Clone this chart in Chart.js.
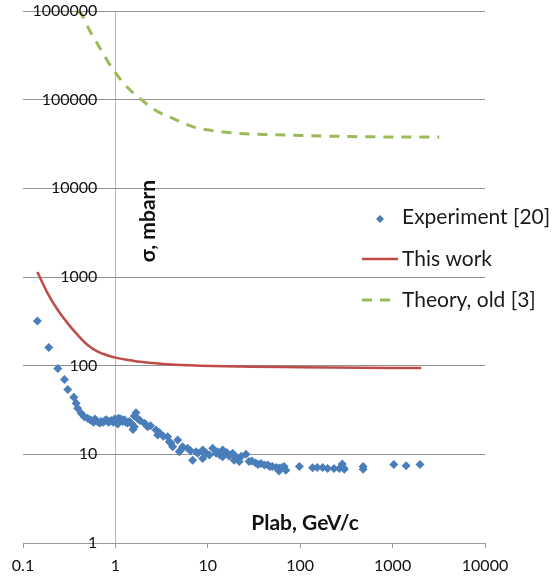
<!DOCTYPE html>
<html>
<head>
<meta charset="utf-8">
<script src="https://cdn.jsdelivr.net/npm/chart.js@4.4.1/dist/chart.umd.min.js"></script>
<style>
  html, body { margin: 0; padding: 0; background: #fff; }
  #wrap { width: 558px; height: 582px; position: relative; }
</style>
</head>
<body>
<div id="wrap"><canvas id="chart"></canvas></div>
<script>
// axis ticks
var xTicks = [0.1, 1, 10, 100, 1000, 10000];
var xTickLabels = ['0.1', '1', '10', '100', '1000', '10000'];
var yTicks = [1, 10, 100, 1000, 10000, 100000, 1000000];
var yTickLabels = ['1', '10', '100', '1000', '10000', '100000', '1000000'];

// Experiment [20]
var expP = [0.143, 0.19, 0.238, 0.281, 0.305, 0.355, 0.376, 0.39, 0.425, 0.46,
    0.5, 0.53, 0.55, 0.58, 0.6, 0.62, 0.65, 0.68, 0.7, 0.74,
    0.77, 0.8, 0.84, 0.87, 0.9, 0.95, 0.98, 1.02, 1.06, 1.08,
    1.12, 1.15, 1.2, 1.25, 1.3, 1.35, 1.42, 1.5, 1.55, 1.6,
    1.6, 1.67, 1.75, 1.85, 2.06, 2.15, 2.23, 2.4, 2.75, 2.87,
    2.99, 3.3, 3.68, 3.83, 4.0, 4.17, 4.72, 4.92, 5.1, 5.33,
    6.04, 6.5, 6.85, 7.45, 7.8, 8.8, 8.8, 9.2, 9.6, 10.4,
    11.3, 12.3, 12.8, 13.5, 14.5, 14.5, 16, 17, 18.6, 19.3,
    20.5, 21.9, 23, 25.9, 28, 30, 33, 35, 37.6, 41,
    44.5, 47, 50, 55, 59, 59, 63, 67, 70, 98,
    136, 153, 175, 198, 232, 265, 285, 292, 300, 480,
    480, 1030, 1400, 1980];
var expSigma = [319, 160, 93, 70, 54, 44, 37.6, 33, 29, 26.5,
    25.5, 24.5, 24, 23, 25, 24, 23, 22.5, 23.5, 23,
    24, 24.5, 23, 23.5, 24, 23, 25, 24.5, 22, 25.5,
    24, 25, 23.5, 24.5, 23, 22.5, 23.5, 22, 19, 20.5,
    27, 29.5, 25, 24, 22.4, 21.5, 20.5, 21, 18.8, 16.5,
    17.5, 16, 15.8, 13.9, 13.3, 12.2, 14.5, 10.7, 11.2, 12.2,
    11.7, 11, 8.6, 10.7, 10.3, 11.2, 9.0, 10.7, 10.3, 9.8,
    11.7, 10.3, 10.7, 9.8, 11.2, 9.4, 10.5, 9.6, 10.3, 8.6,
    9.2, 8.3, 9.5, 10.0, 8.3, 8.4, 8.0, 7.7, 7.9, 7.6,
    7.6, 7.3, 7.3, 7.1, 7.0, 6.5, 7.1, 7.3, 6.6, 7.3,
    7.06, 7.1, 7.1, 6.9, 6.9, 6.9, 7.8, 7.1, 6.8, 7.3,
    6.8, 7.7, 7.45, 7.7];

// This work
var workP = [0.143, 0.185, 0.238, 0.305, 0.39, 0.5, 0.644, 0.975, 1.6, 2.33, 4, 8.1, 30, 100, 1000, 2040];
var workSigma = [1140, 655, 424, 300, 222, 171, 144, 124, 113, 108, 103, 100, 97, 96, 94, 94];

// Theory, old [3]
var oldP = [0.39, 0.42, 0.537, 0.69, 0.905, 1.25, 1.82, 2.71, 4.34, 7.1, 11.8, 20, 40, 100, 300, 1000, 3200];
var oldSigma = [1000000, 949000, 580000, 373000, 233000, 150000, 104000, 76000, 60500, 49000, 44500, 41900, 40500, 39500, 38500, 38000, 38000];

var blue = '#4a7ebb';
var red = '#be4b48';
var green = '#9bbb59';

function pts(xs, ys) {
    return xs.map(function (x, i) { return { x: x, y: ys[i] }; });
}

var overlay = {
    id: 'overlay',
    afterDraw: function (chart) {
        var ctx = chart.ctx;
        var xs = chart.scales.x, ys = chart.scales.y;
        var x1 = xs.getPixelForValue(1);
        ctx.save();
        // y tick labels sit next to the axis at p = 1
        ctx.fillStyle = '#111';
        ctx.font = '16px Lato';
        ctx.textAlign = 'right';
        ctx.textBaseline = 'middle';
        yTicks.forEach(function (v, i) {
            ctx.fillText(yTickLabels[i], x1 - 18, ys.getPixelForValue(v));
        });
        // axis titles inside the plot
        ctx.font = 'bold 21px Lato';
        ctx.textAlign = 'center';
        ctx.fillText('Plab, GeV/c', 305, 523);
        ctx.save();
        ctx.translate(148, 221);
        ctx.rotate(-Math.PI / 2);
        ctx.fillText('σ, mbarn', 0, 0);
        ctx.restore();
        // legend
        ctx.font = '21px Lato';
        ctx.textAlign = 'left';
        ctx.fillStyle = '#1a1a1a';
        ctx.fillText('Experiment [20]', 402, 217);
        ctx.fillText('This work', 402, 259);
        ctx.fillText('Theory, old [3]', 402, 300);
        ctx.fillStyle = blue;
        ctx.beginPath();
        ctx.moveTo(380, 215); ctx.lineTo(384, 219); ctx.lineTo(380, 223); ctx.lineTo(376, 219);
        ctx.closePath();
        ctx.fill();
        ctx.lineWidth = 2.5;
        ctx.strokeStyle = red;
        ctx.beginPath();
        ctx.moveTo(362, 259); ctx.lineTo(398, 259);
        ctx.stroke();
        ctx.lineWidth = 3;
        ctx.strokeStyle = green;
        ctx.setLineDash([10, 8]);
        ctx.beginPath();
        ctx.moveTo(362, 300); ctx.lineTo(398, 300);
        ctx.stroke();
        ctx.restore();
    }
};

Chart.defaults.font.family = 'Lato';
Chart.defaults.color = '#111';

new Chart(document.getElementById('chart'), {
    type: 'scatter',
    data: {
        datasets: [{
            label: 'Experiment [20]',
            data: pts(expP, expSigma),
            pointStyle: 'rectRot',
            pointRadius: 4.5,
            borderWidth: 0,
            backgroundColor: blue,
            borderColor: blue
        }, {
            label: 'This work',
            data: pts(workP, workSigma),
            showLine: true,
            pointRadius: 0,
            borderColor: red,
            borderWidth: 2.5,
            cubicInterpolationMode: 'monotone'
        }, {
            label: 'Theory, old [3]',
            data: pts(oldP, oldSigma),
            showLine: true,
            pointRadius: 0,
            borderColor: green,
            borderWidth: 3,
            borderDash: [10, 8],
            cubicInterpolationMode: 'monotone'
        }]
    },
    options: {
        responsive: true,
        maintainAspectRatio: false,
        animation: false,
        layout: { padding: { left: 23, right: 73, top: 11, bottom: 0 } },
        plugins: { legend: { display: false }, tooltip: { enabled: false } },
        scales: {
            x: {
                type: 'logarithmic',
                position: 'bottom',
                min: 0.1,
                max: 10000,
                afterBuildTicks: function (axis) {
                    axis.ticks = xTicks.map(function (v) { return { value: v }; });
                },
                afterFit: function (axis) { axis.height = 39; },
                ticks: {
                    autoSkip: false,
                    maxRotation: 0,
                    padding: 8,
                    font: { size: 16 },
                    callback: function (v, i) { return xTickLabels[i]; }
                },
                grid: {
                    color: function (c) { return c.tick && c.tick.value === 1 ? '#b8b8b8' : 'rgba(0,0,0,0)'; },
                    tickColor: '#9a9a9a',
                    tickLength: 5
                },
                border: { display: true, color: '#9a9a9a' }
            },
            y: {
                type: 'logarithmic',
                min: 1,
                max: 1000000,
                afterBuildTicks: function (axis) {
                    axis.ticks = yTicks.map(function (v) { return { value: v }; });
                },
                ticks: { display: false },
                grid: { color: '#939393', drawTicks: false },
                border: { display: false }
            }
        }
    },
    plugins: [overlay]
});
</script>
</body>
</html>
